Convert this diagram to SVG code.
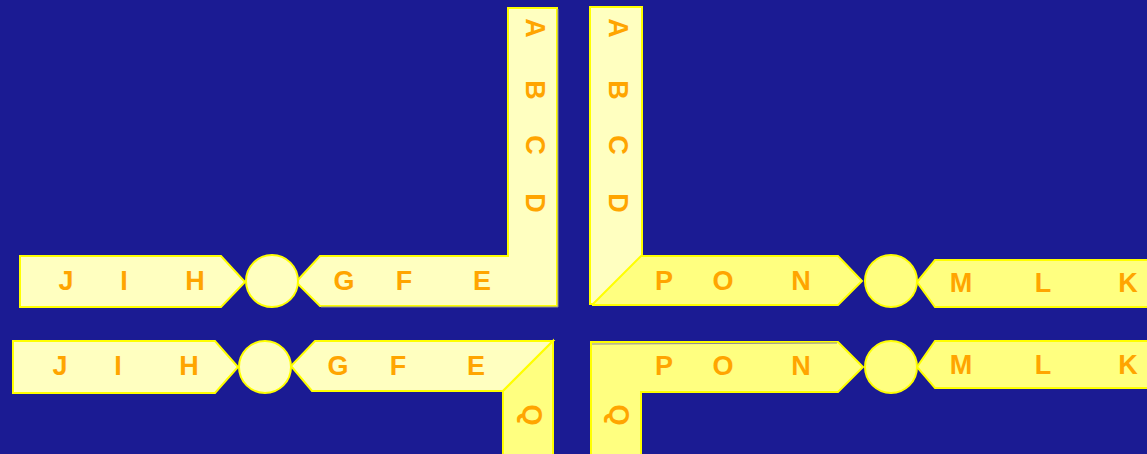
<svg xmlns="http://www.w3.org/2000/svg" width="1147" height="454" viewBox="0 0 1147 454">
<style>
.lt{fill:#ffffc0;stroke:#ffff00;stroke-width:2;stroke-linejoin:miter}
.br{fill:#ffff80;stroke:#ffff00;stroke-width:2;stroke-linejoin:miter}
.sh{fill:none;stroke:#8a8a9a;stroke-width:1}
text{font-family:"Liberation Sans",Arial,sans-serif;font-weight:bold;font-size:27px;fill:#ffa500;text-anchor:middle}
</style>
<rect width="1147" height="454" fill="#1b1b93"/>
<g id="top-left">
<polygon class="lt" points="508,8 557,8 557,306 320,306 296,282 320,256 508,256"/>
<polyline class="sh" points="558,9 558,307 321,307"/>
<text transform="translate(533,28) rotate(90)" dy="7">A</text>
<text transform="translate(533,90) rotate(90)" dy="7">B</text>
<text transform="translate(533,145) rotate(90)" dy="7">C</text>
<text transform="translate(533,203) rotate(90)" dy="7">D</text>
<text x="344" y="290">G</text>
<text x="404" y="290">F</text>
<text x="482" y="290">E</text>
</g>
<g id="top-left-jih">
<polygon class="lt" points="20,256 221,256 245,282 221,307 20,307"/>
<text x="66" y="290">J</text>
<text x="124" y="290">I</text>
<text x="195" y="290">H</text>
</g>
<circle id="circle-tl" class="lt" cx="272" cy="281" r="26"/>
<g id="top-right">
<rect class="lt" x="590" y="7" width="52" height="297"/>
<polygon class="br" points="593,304 641,256 838,256 862,281 838,305 593,305"/>
<text transform="translate(616,28) rotate(90)" dy="7">A</text>
<text transform="translate(616,90) rotate(90)" dy="7">B</text>
<text transform="translate(616,145) rotate(90)" dy="7">C</text>
<text transform="translate(616,203) rotate(90)" dy="7">D</text>
<text x="664" y="290">P</text>
<text x="723" y="290">O</text>
<text x="801" y="290">N</text>
</g>
<circle id="circle-tr" class="br" cx="891" cy="281" r="26"/>
<g id="top-right-mlk">
<polygon class="br" points="935,260 1150,260 1150,307 935,307 917,282"/>
<text x="961" y="292">M</text>
<text x="1043" y="292">L</text>
<text x="1128" y="292">K</text>
</g>
<g id="bottom-left">
<polygon class="lt" points="315,341 553,341 503,391 312,391 291,366"/>
<polygon class="br" points="503,391 553,341 553,456 503,456"/>
<text x="338" y="375">G</text>
<text x="398" y="375">F</text>
<text x="476" y="375">E</text>
<text transform="translate(530,415) rotate(90)" dy="7">Q</text>
</g>
<g id="bottom-left-jih">
<polygon class="lt" points="13,341 215,341 238,367 215,393 13,393"/>
<text x="60" y="375">J</text>
<text x="118" y="375">I</text>
<text x="189" y="375">H</text>
</g>
<circle id="circle-bl" class="lt" cx="265" cy="367" r="26"/>
<g id="bottom-right">
<polygon class="br" points="591,342 838,342 863,367 838,392 641,392 641,456 591,456"/>
<polyline class="sh" points="592,344 837,343"/>
<text x="664" y="375">P</text>
<text x="723" y="375">O</text>
<text x="801" y="375">N</text>
<text transform="translate(617,415) rotate(90)" dy="7">Q</text>
</g>
<circle id="circle-br" class="br" cx="891" cy="367" r="26"/>
<g id="bottom-right-mlk">
<polygon class="br" points="935,341 1150,341 1150,388 935,388 917,367"/>
<text x="961" y="374">M</text>
<text x="1043" y="374">L</text>
<text x="1128" y="374">K</text>
</g>
<g id="connectors"/>
</svg>
